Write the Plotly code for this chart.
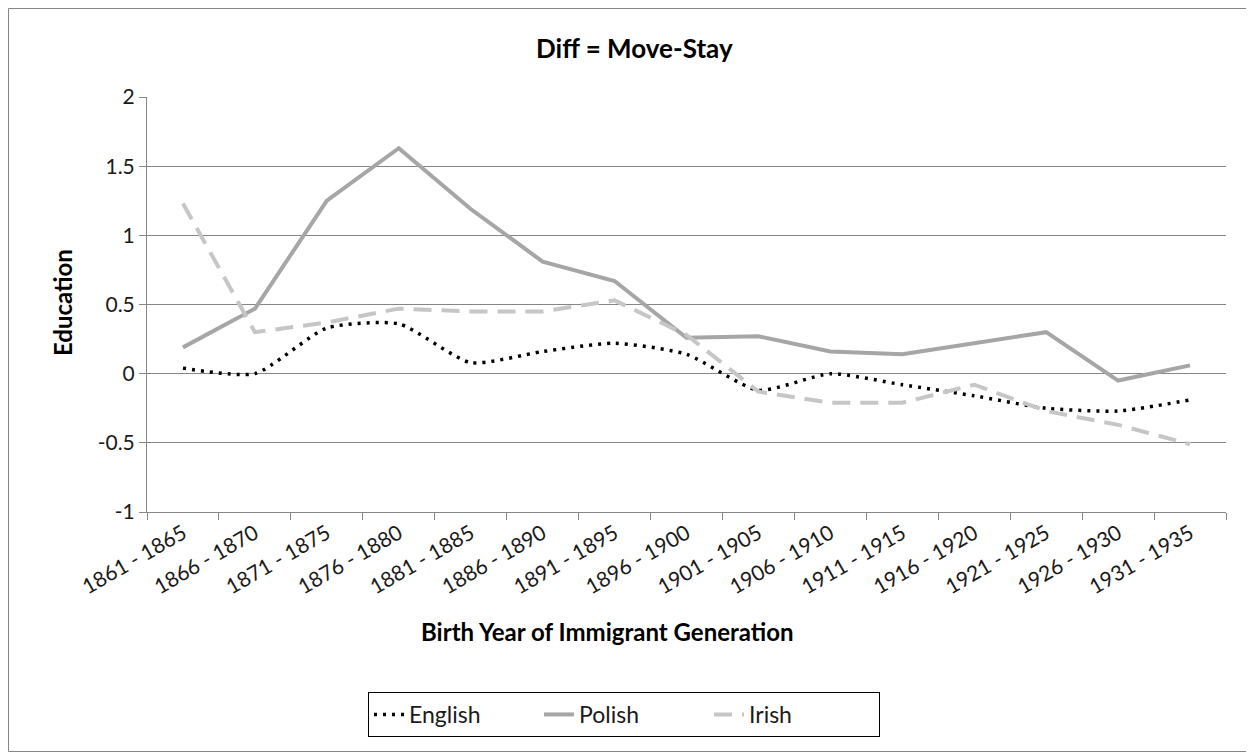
import plotly.graph_objects as go

# Birth year cohorts
cohorts = ['1861 - 1865', '1866 - 1870', '1871 - 1875', '1876 - 1880', '1881 - 1885',
           '1886 - 1890', '1891 - 1895', '1896 - 1900', '1901 - 1905', '1906 - 1910',
           '1911 - 1915', '1916 - 1920', '1921 - 1925', '1926 - 1930', '1931 - 1935']

# Education difference (Move - Stay)
english = [0.04, 0.00, 0.33, 0.36, 0.08, 0.16, 0.22, 0.14, -0.12, 0.00, -0.08, -0.16, -0.25, -0.27, -0.19]
polish = [0.19, 0.47, 1.25, 1.63, 1.19, 0.81, 0.67, 0.26, 0.27, 0.16, 0.14, 0.22, 0.30, -0.05, 0.06]
irish = [1.23, 0.30, 0.37, 0.47, 0.45, 0.45, 0.53, 0.28, -0.13, -0.21, -0.21, -0.08, -0.27, -0.37, -0.51]

y_ticks = [-1, -0.5, 0, 0.5, 1, 1.5, 2]
y_labels = ['-1', '-0.5', '0', '0.5', '1', '1.5', '2']

FONT = 'Lato'
TXT = '#1a1a1a'

fig = go.Figure()
fig.add_trace(go.Scatter(x=cohorts, y=english, name='English', mode='lines',
                         line=dict(color='black', width=3.5, dash='3px,6px', shape='spline', smoothing=0.6)))
fig.add_trace(go.Scatter(x=cohorts, y=polish, name='Polish', mode='lines',
                         line=dict(color='#a6a6a6', width=4)))
fig.add_trace(go.Scatter(x=cohorts, y=irish, name='Irish', mode='lines',
                         line=dict(color='#c6c6c6', width=4, dash='18px,10px')))

# the page adds an 8px body margin, so work in page pixels and shift
OFF = 8
W, H = 1254 - OFF, 752 - OFF
L, R, T, B = 147 - OFF, 1226 - OFF, 97 - OFF, 512 - OFF
pw, ph = R - L, B - T


def px(x):
    return (x - OFF - L) / pw


def py(y):
    return (B - (y - OFF)) / ph


fig.update_layout(
    width=W, height=H,
    margin=dict(l=L, r=W - R, t=T, b=H - B),
    plot_bgcolor='white', paper_bgcolor='white',
    font=dict(family=FONT, size=21, color=TXT),
    showlegend=True,
    legend=dict(orientation='h', x=px(624), y=py(692), xanchor='center', yanchor='top',
                bordercolor='black', borderwidth=1, font=dict(size=23, family=FONT, color=TXT),
                entrywidth=125, entrywidthmode='pixels', tracegroupgap=0),
    xaxis=dict(showgrid=False, showline=True, linecolor='#868686', linewidth=1,
               ticks='outside', tickson='boundaries', ticklen=7, tickcolor='#868686',
               tickangle=-30, tickfont=dict(size=21), range=[-0.5, 14.5]),
    yaxis=dict(range=[-1, 2], tickvals=y_ticks, ticktext=y_labels, showgrid=True,
               gridcolor='#868686', gridwidth=1, showline=True, linecolor='#868686', linewidth=1,
               zeroline=False, ticks='outside', ticklen=7, tickcolor='#868686',
               tickfont=dict(size=21)),
)

fig.add_annotation(text='<b>Diff = Move-Stay</b>', x=px(634), y=py(48), xref='paper', yref='paper',
                   xanchor='center', yanchor='middle', showarrow=False,
                   font=dict(size=26, color='black'))
fig.add_annotation(text='<b>Education</b>', x=px(62), y=py(303), xref='paper', yref='paper',
                   xanchor='center', yanchor='middle', showarrow=False, textangle=-90,
                   font=dict(size=24, color='black'))
fig.add_annotation(text='<b>Birth Year of Immigrant Generation</b>', x=px(607), y=py(631),
                   xref='paper', yref='paper', xanchor='center', yanchor='middle', showarrow=False,
                   font=dict(size=24, color='black'))

# outer chart border
fig.add_shape(type='rect', xref='paper', yref='paper', x0=px(OFF + 0.5), x1=px(1253.5),
              y0=py(751.5), y1=py(OFF + 0.5), line=dict(color='#868686', width=1))

fig.write_html('out.html')
